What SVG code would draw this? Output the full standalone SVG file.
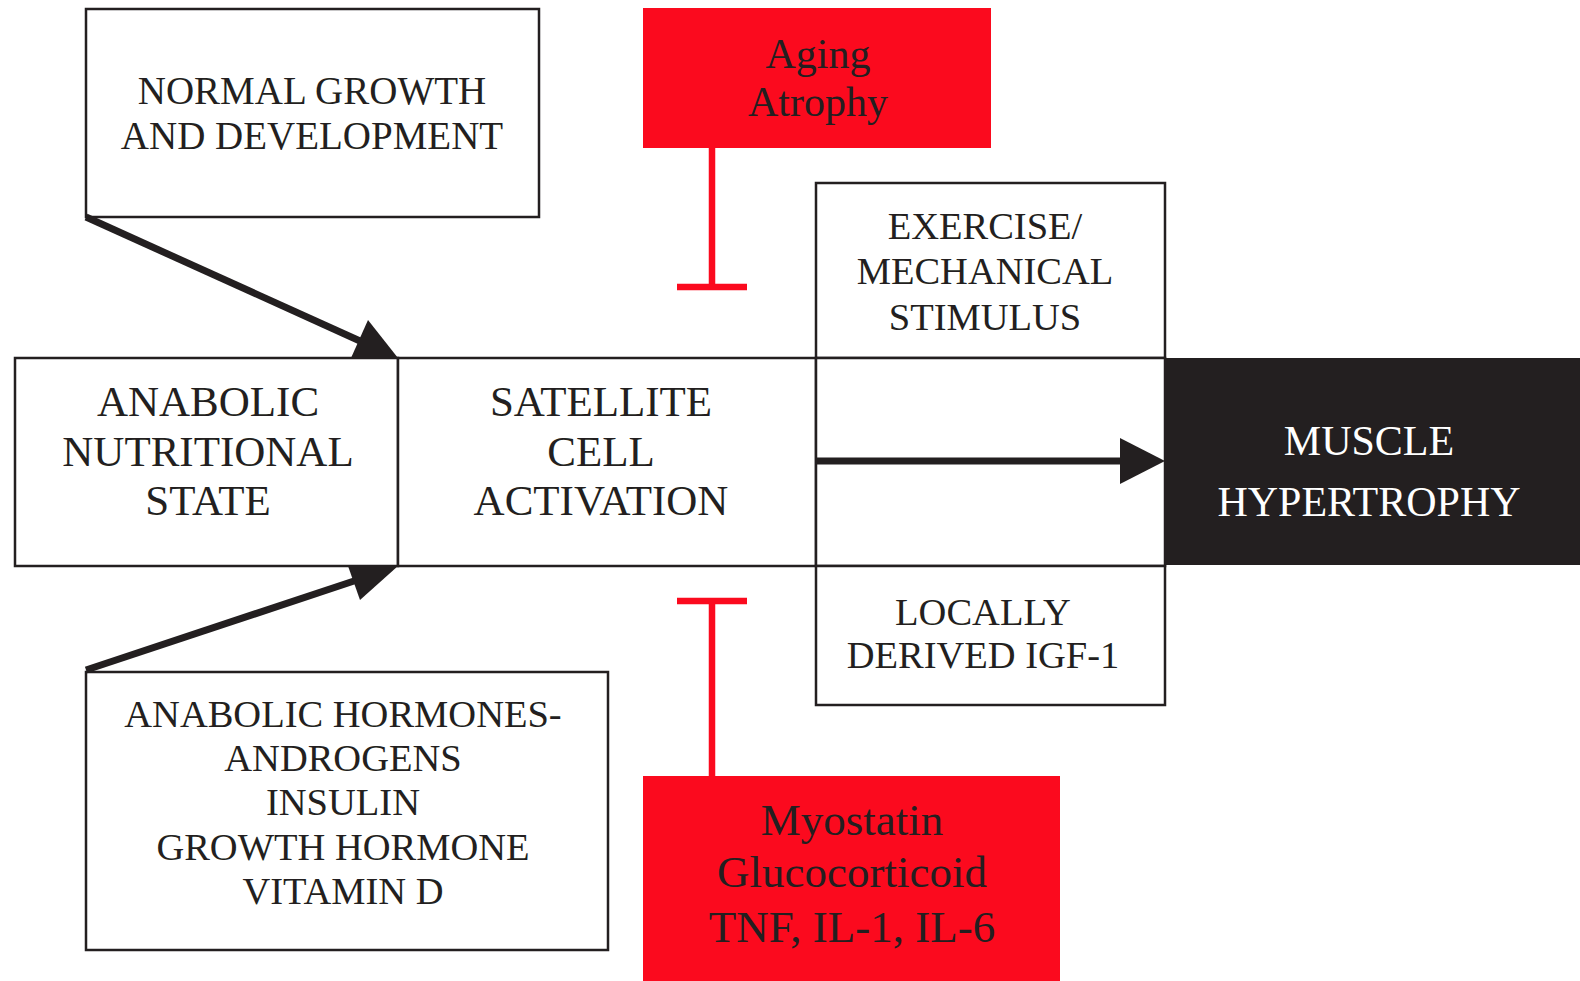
<svg xmlns="http://www.w3.org/2000/svg" width="1580" height="981" viewBox="0 0 1580 981">
  <style>
    .box { fill: #ffffff; stroke: #231f20; stroke-width: 2.5; }
    .red { fill: #fb0a1e; }
    .dark { fill: #231f20; }
    .t { font-family: "Liberation Serif", "Times New Roman", serif; fill: #231f20; text-anchor: middle; }
    .w { fill: #ffffff; }
    .arrow { stroke: #231f20; stroke-width: 7; fill: none; }
    .head { fill: #231f20; }
    .inhib { stroke: #fb0a1e; stroke-width: 6.5; fill: none; }
  </style>

  <rect width="1580" height="981" fill="#ffffff"/>

  <!-- upstream inputs -->
  <g id="normal-growth">
    <rect class="box" x="86" y="9" width="453" height="208"/>
    <text class="t" font-size="39" x="312" y="104">NORMAL GROWTH</text>
    <text class="t" font-size="39" x="312" y="149">AND DEVELOPMENT</text>
  </g>

  <g id="aging">
    <rect class="red" x="643" y="8" width="348" height="140"/>
    <text class="t" font-size="42" x="818" y="68">Aging</text>
    <text class="t" font-size="42" x="818" y="116">Atrophy</text>
  </g>

  <g id="exercise">
    <rect class="box" x="816" y="183" width="349" height="175"/>
    <text class="t" font-size="38.5" x="985" y="239">EXERCISE/</text>
    <text class="t" font-size="38.5" x="985" y="284">MECHANICAL</text>
    <text class="t" font-size="38.5" x="985" y="330">STIMULUS</text>
  </g>

  <!-- main row -->
  <g id="anabolic-state">
    <rect class="box" x="15" y="358" width="383" height="208"/>
    <text class="t" font-size="43" x="208" y="416">ANABOLIC</text>
    <text class="t" font-size="43" x="208" y="466">NUTRITIONAL</text>
    <text class="t" font-size="43" x="208" y="515">STATE</text>
  </g>

  <g id="satellite">
    <rect class="box" x="398" y="358" width="418" height="208"/>
    <text class="t" font-size="43" x="601" y="416">SATELLITE</text>
    <text class="t" font-size="43" x="601" y="466">CELL</text>
    <text class="t" font-size="43" x="601" y="515">ACTIVATION</text>
  </g>

  <g id="transition">
    <rect class="box" x="816" y="358" width="349" height="208"/>
  </g>

  <g id="hypertrophy">
    <rect class="dark" x="1166" y="358" width="414" height="207"/>
    <text class="t w" font-size="42" x="1369" y="455">MUSCLE</text>
    <text class="t w" font-size="42" x="1369" y="516">HYPERTROPHY</text>
  </g>

  <!-- lower inputs -->
  <g id="igf1">
    <rect class="box" x="816" y="566" width="349" height="139"/>
    <text class="t" font-size="38.5" x="983" y="625">LOCALLY</text>
    <text class="t" font-size="38.5" x="983" y="668">DERIVED IGF-1</text>
  </g>

  <g id="hormones">
    <rect class="box" x="86" y="672" width="522" height="278"/>
    <text class="t" font-size="38.5" x="343" y="727">ANABOLIC HORMONES-</text>
    <text class="t" font-size="38.5" x="343" y="771">ANDROGENS</text>
    <text class="t" font-size="38.5" x="343" y="815">INSULIN</text>
    <text class="t" font-size="38.5" x="343" y="860">GROWTH HORMONE</text>
    <text class="t" font-size="38.5" x="343" y="904">VITAMIN D</text>
  </g>

  <g id="inhibitors">
    <rect class="red" x="643" y="776" width="417" height="205"/>
    <text class="t" font-size="45" x="852" y="835">Myostatin</text>
    <text class="t" font-size="45" x="852" y="887">Glucocorticoid</text>
    <text class="t" font-size="45" x="852" y="942">TNF, IL-1, IL-6</text>
  </g>

  <!-- connectors -->
  <g id="connectors">
    <!-- normal growth -> anabolic state -->
    <line class="arrow" x1="86" y1="217" x2="360" y2="341"/>
    <polygon class="head" points="398,358 351,358 368,320"/>
    <!-- hormones -> anabolic state -->
    <line class="arrow" x1="86" y1="670" x2="360" y2="579"/>
    <polygon class="head" points="398,566 348,566 360,600"/>
    <!-- activation -> hypertrophy -->
    <line class="arrow" x1="816" y1="461" x2="1125" y2="461"/>
    <polygon class="head" points="1165,461 1120,438 1120,484"/>
    <!-- inhibition from aging -->
    <line class="inhib" x1="712" y1="148" x2="712" y2="287"/>
    <line class="inhib" x1="677" y1="287" x2="747" y2="287"/>
    <!-- inhibition from myostatin / cytokines -->
    <line class="inhib" x1="677" y1="601" x2="747" y2="601"/>
    <line class="inhib" x1="712" y1="601" x2="712" y2="776"/>
  </g>
</svg>
